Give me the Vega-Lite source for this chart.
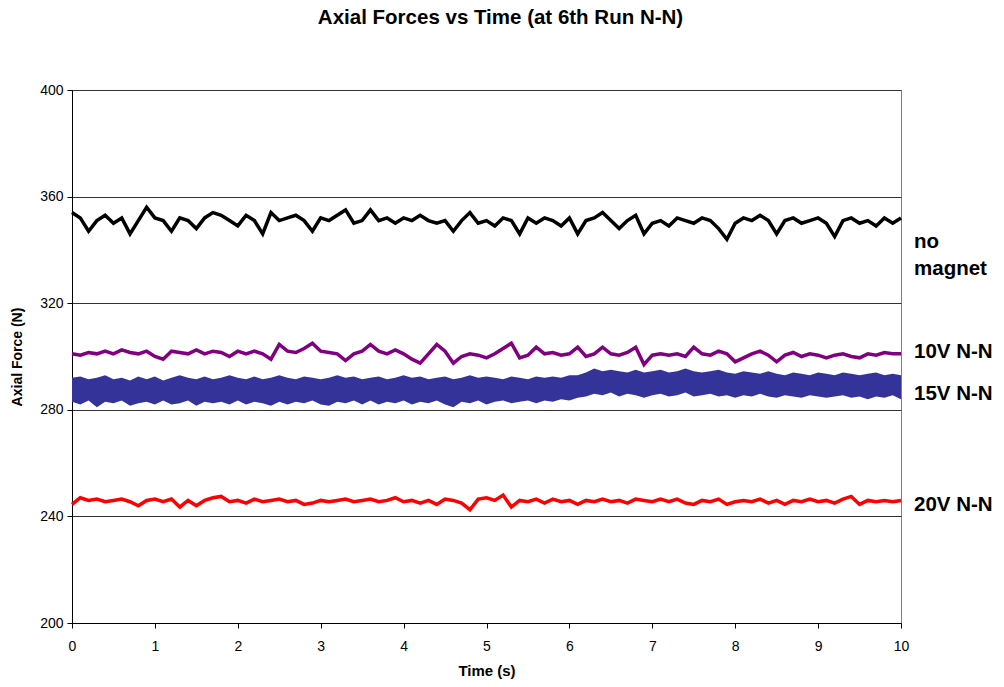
{
"$schema":"https://vega.github.io/schema/vega-lite/v6.json",
"width":829,"height":533,
"autosize":{"type":"none"},
"padding":{"left":72,"top":90,"right":103,"bottom":64},
"background":"white",
"config":{"view":{"stroke":"#808080","strokeWidth":1},"font":"Liberation Sans"},
"title":{"text":"Axial Forces vs Time (at 6th Run N-N)","fontSize":20.5,"fontWeight":"bold","color":"#000","anchor":"middle","offset":55,"dx":14,"font":"Liberation Sans"},
"datasets":{
"series":[
{"t":0,"a":354,"b":301,"lo":283,"hi":292,"d":244.5},
{"t":0.1,"a":352,"b":300.5,"lo":282,"hi":292.5,"d":247},
{"t":0.2,"a":347,"b":301.5,"lo":283.5,"hi":291.5,"d":246},
{"t":0.3,"a":351,"b":301,"lo":281,"hi":292,"d":246.5},
{"t":0.4,"a":353,"b":302,"lo":283,"hi":293,"d":245.5},
{"t":0.5,"a":350,"b":301,"lo":282.5,"hi":291.5,"d":246},
{"t":0.6,"a":352,"b":302.5,"lo":283.5,"hi":292,"d":246.5},
{"t":0.7,"a":346,"b":301.5,"lo":281.5,"hi":291,"d":245.5},
{"t":0.8,"a":351,"b":301,"lo":282.5,"hi":292.5,"d":244},
{"t":0.9,"a":356,"b":302,"lo":283,"hi":291.5,"d":246},
{"t":1.0,"a":352,"b":300,"lo":282,"hi":292.5,"d":246.5},
{"t":1.1,"a":351,"b":299,"lo":283.5,"hi":291,"d":245.5},
{"t":1.2,"a":347,"b":302,"lo":282,"hi":292,"d":246.5},
{"t":1.3,"a":352,"b":301.5,"lo":282.5,"hi":293,"d":243.5},
{"t":1.4,"a":351,"b":301,"lo":283.5,"hi":292,"d":246},
{"t":1.5,"a":348,"b":302.5,"lo":281.5,"hi":291.5,"d":244},
{"t":1.6,"a":352,"b":301,"lo":283,"hi":292.5,"d":246},
{"t":1.7,"a":354,"b":302,"lo":282.5,"hi":291.5,"d":247},
{"t":1.8,"a":353,"b":301.5,"lo":283,"hi":292,"d":247.5},
{"t":1.9,"a":351,"b":300,"lo":282,"hi":293,"d":245.5},
{"t":2.0,"a":349,"b":302,"lo":283.5,"hi":292,"d":246},
{"t":2.1,"a":353,"b":301,"lo":282,"hi":291.5,"d":245},
{"t":2.2,"a":351,"b":302,"lo":283,"hi":292.5,"d":246.5},
{"t":2.3,"a":346,"b":301,"lo":282.5,"hi":291.5,"d":245.5},
{"t":2.4,"a":354,"b":299,"lo":281.5,"hi":292,"d":246},
{"t":2.5,"a":351,"b":304.5,"lo":283,"hi":293,"d":246.5},
{"t":2.6,"a":352,"b":302,"lo":282,"hi":292,"d":245.5},
{"t":2.7,"a":353,"b":301.5,"lo":283,"hi":291.5,"d":246},
{"t":2.8,"a":351,"b":303,"lo":282.5,"hi":292.5,"d":244.5},
{"t":2.9,"a":347,"b":305,"lo":283.5,"hi":292,"d":245},
{"t":3.0,"a":352,"b":302,"lo":282,"hi":291.5,"d":246},
{"t":3.1,"a":351,"b":301.5,"lo":281.5,"hi":292,"d":245.5},
{"t":3.2,"a":353,"b":301,"lo":283,"hi":293,"d":246},
{"t":3.3,"a":355,"b":298.5,"lo":282.5,"hi":292,"d":246.5},
{"t":3.4,"a":350,"b":301,"lo":283.5,"hi":292.5,"d":245.5},
{"t":3.5,"a":351,"b":302,"lo":282,"hi":291.5,"d":246},
{"t":3.6,"a":355,"b":304.5,"lo":283.5,"hi":292,"d":246.5},
{"t":3.7,"a":351,"b":302,"lo":282,"hi":292.5,"d":245.5},
{"t":3.8,"a":352,"b":301,"lo":283,"hi":291.5,"d":246},
{"t":3.9,"a":350,"b":302.5,"lo":282.5,"hi":292,"d":247},
{"t":4.0,"a":352,"b":301,"lo":283.5,"hi":293,"d":245.5},
{"t":4.1,"a":351,"b":299,"lo":282,"hi":292,"d":246},
{"t":4.2,"a":353,"b":297.5,"lo":283,"hi":292.5,"d":245},
{"t":4.3,"a":351,"b":301,"lo":282.5,"hi":291.5,"d":246},
{"t":4.4,"a":350,"b":304.5,"lo":283.5,"hi":292,"d":244.5},
{"t":4.5,"a":351,"b":302,"lo":282,"hi":292.5,"d":246.5},
{"t":4.6,"a":347,"b":297.5,"lo":281,"hi":291.5,"d":246},
{"t":4.7,"a":351,"b":300,"lo":283,"hi":292,"d":245},
{"t":4.8,"a":354,"b":301,"lo":282.5,"hi":293,"d":242.5},
{"t":4.9,"a":350,"b":300.5,"lo":283.5,"hi":292,"d":246.5},
{"t":5.0,"a":351,"b":299.5,"lo":282,"hi":292.5,"d":247},
{"t":5.1,"a":349,"b":301,"lo":283,"hi":292,"d":246},
{"t":5.2,"a":352,"b":303,"lo":283.5,"hi":291.5,"d":248},
{"t":5.3,"a":351,"b":305,"lo":282.5,"hi":292.5,"d":243.5},
{"t":5.4,"a":346,"b":299.5,"lo":283,"hi":292,"d":246},
{"t":5.5,"a":352,"b":300.5,"lo":283.5,"hi":291.5,"d":245.5},
{"t":5.6,"a":350,"b":303.5,"lo":282.5,"hi":292.5,"d":246.5},
{"t":5.7,"a":352,"b":301,"lo":283.5,"hi":292,"d":245},
{"t":5.8,"a":351,"b":301.5,"lo":283,"hi":292.5,"d":246.5},
{"t":5.9,"a":349,"b":300.5,"lo":284,"hi":292,"d":245.5},
{"t":6.0,"a":352,"b":301,"lo":283.5,"hi":293,"d":246},
{"t":6.1,"a":346,"b":303.5,"lo":284.5,"hi":293,"d":244.5},
{"t":6.2,"a":351,"b":300,"lo":285,"hi":294,"d":246},
{"t":6.3,"a":352,"b":301,"lo":286,"hi":295.5,"d":245.5},
{"t":6.4,"a":354,"b":303.5,"lo":285.5,"hi":294.5,"d":246.5},
{"t":6.5,"a":351,"b":301,"lo":286.5,"hi":295,"d":245.5},
{"t":6.6,"a":348,"b":300.5,"lo":285,"hi":294.5,"d":246},
{"t":6.7,"a":351,"b":301.5,"lo":286,"hi":294,"d":245},
{"t":6.8,"a":353,"b":303.5,"lo":285.5,"hi":295,"d":246.5},
{"t":6.9,"a":346,"b":297,"lo":284.5,"hi":294,"d":246},
{"t":7.0,"a":350,"b":300.5,"lo":285.5,"hi":294.5,"d":245.5},
{"t":7.1,"a":351,"b":301,"lo":286,"hi":295,"d":246.5},
{"t":7.2,"a":349,"b":300.5,"lo":285,"hi":294,"d":245.5},
{"t":7.3,"a":352,"b":301,"lo":285.5,"hi":294.5,"d":246.5},
{"t":7.4,"a":351,"b":300,"lo":286.5,"hi":295.5,"d":245},
{"t":7.5,"a":350,"b":303.5,"lo":285,"hi":294.5,"d":244.5},
{"t":7.6,"a":352,"b":301,"lo":285.5,"hi":294,"d":246},
{"t":7.7,"a":351,"b":300.5,"lo":286,"hi":294.5,"d":245.5},
{"t":7.8,"a":348,"b":302,"lo":285,"hi":295,"d":246.5},
{"t":7.9,"a":344,"b":301,"lo":285.5,"hi":294,"d":244.5},
{"t":8.0,"a":350,"b":298,"lo":284.5,"hi":293.5,"d":245.5},
{"t":8.1,"a":352,"b":299.5,"lo":285.5,"hi":294.5,"d":246},
{"t":8.2,"a":351,"b":301,"lo":285,"hi":294,"d":245.5},
{"t":8.3,"a":353,"b":302,"lo":286,"hi":293.5,"d":246.5},
{"t":8.4,"a":351,"b":300.5,"lo":285,"hi":294.5,"d":245},
{"t":8.5,"a":346,"b":298,"lo":284.5,"hi":293.5,"d":246},
{"t":8.6,"a":351,"b":300.5,"lo":285.5,"hi":293,"d":244.5},
{"t":8.7,"a":352,"b":301.5,"lo":285,"hi":294,"d":246},
{"t":8.8,"a":350,"b":300,"lo":284.5,"hi":293.5,"d":245.5},
{"t":8.9,"a":351,"b":301,"lo":285.5,"hi":293,"d":246.5},
{"t":9.0,"a":352,"b":300.5,"lo":285,"hi":294,"d":245.5},
{"t":9.1,"a":350,"b":299.5,"lo":284.5,"hi":293.5,"d":246},
{"t":9.2,"a":345,"b":300.5,"lo":285,"hi":293,"d":245},
{"t":9.3,"a":351,"b":301,"lo":285.5,"hi":294,"d":246.5},
{"t":9.4,"a":352,"b":300,"lo":284.5,"hi":293.5,"d":247.5},
{"t":9.5,"a":350,"b":299.5,"lo":285,"hi":293,"d":244.5},
{"t":9.6,"a":351,"b":301,"lo":284,"hi":293.5,"d":246},
{"t":9.7,"a":349,"b":300.5,"lo":285,"hi":294,"d":245.5},
{"t":9.8,"a":352,"b":301.5,"lo":284.5,"hi":293,"d":246},
{"t":9.9,"a":350,"b":301,"lo":285.5,"hi":293.5,"d":245.5},
{"t":10.0,"a":352,"b":301,"lo":284,"hi":293,"d":246}
],
"labels":[
{"t":10,"y":342.8,"label":"no|magnet"},
{"t":10,"y":301.7,"label":"10V N-N"},
{"t":10,"y":285.9,"label":"15V N-N"},
{"t":10,"y":244.3,"label":"20V N-N"}
]
},
"encoding":{
"x":{"field":"t","type":"quantitative","scale":{"domain":[0,10],"nice":false},
"axis":{"values":[0,1,2,3,4,5,6,7,8,9,10],"grid":false,"labelFlush":false,"domainColor":"#000","tickColor":"#000","tickSize":5,"labelFontSize":14,"labelColor":"#000","labelFont":"Liberation Sans","labelPadding":11,"title":"Time (s)","titleFontSize":15,"titleFontWeight":"bold","titleColor":"#000","titleFont":"Liberation Sans","titlePadding":10}}
},
"layer":[
{"data":{"name":"series"},"mark":{"type":"area","color":"#333399","opacity":1},
"encoding":{"y":{"field":"lo","type":"quantitative","scale":{"domain":[200,400],"nice":false},
"axis":{"values":[200,240,280,320,360,400],"grid":true,"labelFlush":false,"gridColor":"#333","gridOpacity":1,"domainColor":"#000","tickColor":"#000","tickSize":5,"labelFontSize":14,"labelColor":"#000","labelFont":"Liberation Sans","labelPadding":4,"title":"Axial Force (N)","titleFontSize":14,"titleFontWeight":"bold","titleColor":"#000","titleFont":"Liberation Sans","titlePadding":15}},
"y2":{"field":"hi"}}},
{"data":{"name":"series"},"mark":{"type":"line","color":"#000000","strokeWidth":3.5},"encoding":{"y":{"field":"a","type":"quantitative"}}},
{"data":{"name":"series"},"mark":{"type":"line","color":"#800080","strokeWidth":3.5},"encoding":{"y":{"field":"b","type":"quantitative"}}},
{"data":{"name":"series"},"mark":{"type":"line","color":"#FF0000","strokeWidth":3.5},"encoding":{"y":{"field":"d","type":"quantitative"}}},
{"data":{"name":"labels"},"mark":{"type":"text","align":"left","baseline":"middle","dx":13,"fontSize":20.5,"fontWeight":"bold","font":"Liberation Sans","color":"#000","lineBreak":"|","lineHeight":27},
"encoding":{"y":{"field":"y","type":"quantitative"},"text":{"field":"label"}}}
]
}
